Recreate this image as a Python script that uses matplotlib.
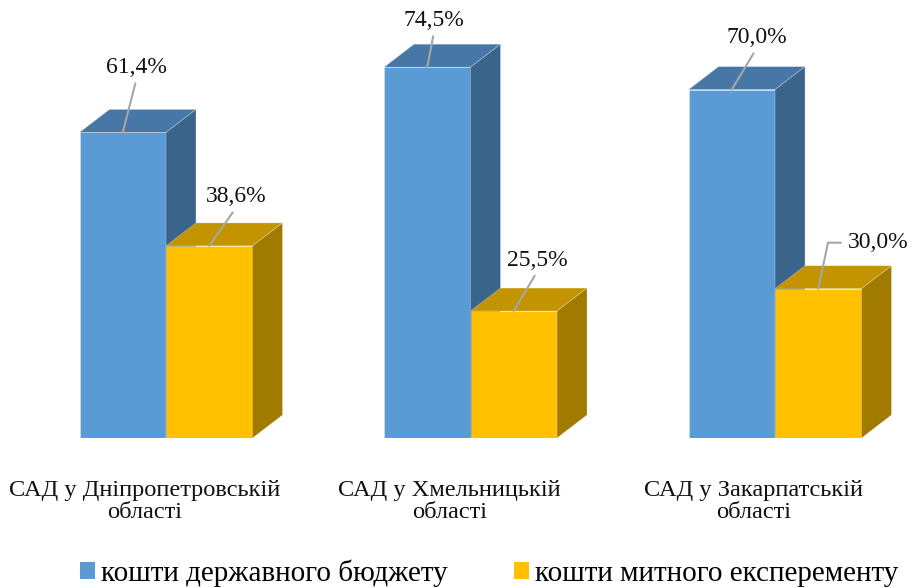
import matplotlib
matplotlib.use("Agg")
import matplotlib.pyplot as plt
from matplotlib.patches import Polygon, Patch
import numpy as np

# data
categories = ["САД у Дніпропетровській\nобласті",
              "САД у Хмельницькій\nобласті",
              "САД у Закарпатській\nобласті"]
state_budget = [61.4, 74.5, 70.0]
customs_exp = [38.6, 25.5, 30.0]
series_names = ["кошти державного бюджету", "кошти митного експеременту"]

# label offsets (pixels, y up) relative to the top of each bar front
state_offsets = [(14, 65), (7, 47), (25, 52)]
customs_offsets = [(27, 49), (24, 51), (60, 46)]

BLUE = ("#5B9BD5", "#4677A6", "#3A6489")     # front, top, side
YELLOW = ("#FFC000", "#C49400", "#A17A00")

plt.rcParams['font.family'] = ['Liberation Serif', 'DejaVu Serif']

fig = plt.figure(figsize=(9.11, 5.88), dpi=100)
ax = fig.add_axes([0, 150 / 588, 1, 438 / 588])

x = np.arange(len(categories))
w = 86.5 / 304.5          # bar width in category units
ymax = 88.0
ax.set_xlim(-166 / 304.5, (911 - 166) / 304.5)
ax.set_ylim(0, ymax)
dx = 30 / 304.5           # depth offset
dy = 23 * ymax / 438


def bar3d(x0, v, colors):
    x1 = x0 + w
    ax.bar(x0, v, w, align='edge', color=colors[0],
           edgecolor=(1, 1, 1, 0.3), linewidth=0.6, zorder=2)
    top = [(x0, v), (x1, v), (x1 + dx, v + dy), (x0 + dx, v + dy)]
    side = [(x1, 0), (x1, v), (x1 + dx, v + dy), (x1 + dx, dy)]
    ax.add_patch(Polygon(top, closed=True, facecolor=colors[1],
                         edgecolor=(1, 1, 1, 0.3), linewidth=0.6, zorder=2))
    ax.add_patch(Polygon(side, closed=True, facecolor=colors[2],
                         edgecolor=(1, 1, 1, 0.3), linewidth=0.6, zorder=2))


def label(xc, v, off, elbow=False):
    txt = f"{v:.1f}%".replace('.', ',')
    if elbow:
        ap = dict(arrowstyle='-', color='#A6A6A6', lw=1.5, shrinkA=3, shrinkB=0,
                  relpos=(0, 0.5), connectionstyle="angle,angleA=0,angleB=78,rad=0")
    else:
        ap = dict(arrowstyle='-', color='#A6A6A6', lw=1.5, shrinkA=2, shrinkB=0,
                  relpos=(0.5, 0))
    ax.annotate(txt, xy=(xc, v), xytext=off, textcoords='offset pixels',
                ha='center', va='center', fontsize=17, color='#111111',
                arrowprops=ap, zorder=5)


for i in range(len(categories)):
    bar3d(x[i] - w, state_budget[i], BLUE)
    bar3d(x[i], customs_exp[i], YELLOW)

for i in range(len(categories)):
    label(x[i] - w / 2, state_budget[i], state_offsets[i])
    label(x[i] + w / 2, customs_exp[i], customs_offsets[i], elbow=(i == 2))

ax.set_xticks(x - 0.07)
ax.set_xticklabels(categories, fontsize=17.6, color='#111111', linespacing=1.1)
ax.tick_params(axis='x', length=0, pad=30)
ax.set_yticks([])
for s in ax.spines.values():
    s.set_visible(False)

handles = [Patch(facecolor=BLUE[0]), Patch(facecolor=YELLOW[0])]
fig.legend(handles, series_names, loc='center left', ncol=2,
           bbox_to_anchor=(80 / 911, 15 / 588), frameon=False, fontsize=21,
           handlelength=0.53, handleheight=0.53, handletextpad=0.2,
           columnspacing=2.25, borderaxespad=0, borderpad=0)

fig.savefig("out.png", dpi=100)
